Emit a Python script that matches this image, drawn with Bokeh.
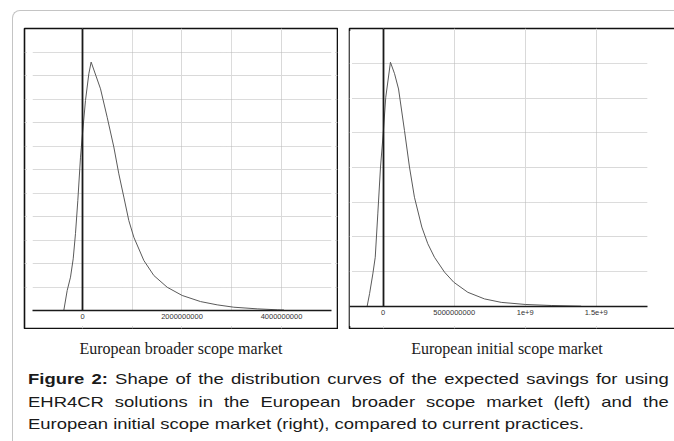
from bokeh.plotting import figure
from bokeh.models import LinearAxis, Grid, FixedTicker, Range1d, Div, Spacer, BoxAnnotation
from bokeh.layouts import row, column
from bokeh.embed import file_html
from bokeh.resources import INLINE

# ---------------- data ----------------
# Left: European broader scope market (expected savings, density shape)
broad_x = [-3.76e8, -3.08e8, -2.41e8, -1.87e8, -1.41e8, -0.94e8, -0.40e8, 0.0, 0.60e8,
           1.27e8, 1.74e8, 3.62e8, 4.96e8, 6.30e8, 7.30e8, 8.31e8, 9.31e8, 10.32e8,
           12.33e8, 14.34e8, 17.02e8, 20.03e8, 23.72e8, 27.07e8, 30.41e8, 35.11e8,
           39.13e8, 40.5e8]
broad_y = [0.0, 0.85, 1.42, 2.2, 3.27, 4.68, 6.53, 7.53, 8.94, 10.08, 10.58, 9.44, 8.23,
           6.96, 5.82, 4.83, 3.83, 3.12, 2.13, 1.49, 0.99, 0.64, 0.38, 0.24, 0.14, 0.07,
           0.03, 0.02]
broad_ticks = [0, 2000000000, 4000000000]
broad_tick_labels = ["0", "2000000000", "4000000000"]
broad_minor_x = [1000000000, 3000000000]
broad_major_y = [2, 4, 6, 8, 10]
broad_minor_y = [1, 3, 5, 7, 9, 11]
broad_axis_span = (-1.0e9, 5.0e9)

# Right: European initial scope market
init_x = [-1.13e8, -0.96e8, -0.73e8, -0.56e8, -0.38e8, -0.19e8, 0.0, 0.18e8, 0.51e8,
          0.80e8, 1.08e8, 1.50e8, 1.85e8, 2.20e8, 2.72e8, 3.14e8, 3.61e8, 4.32e8,
          4.97e8, 5.96e8, 7.13e8, 8.31e8, 10.0e8, 11.83e8, 13.94e8]
init_y = [0.0, 0.36, 0.93, 1.41, 2.66, 4.01, 4.97, 6.02, 7.03, 6.70, 6.26, 5.06, 4.01,
          3.14, 2.28, 1.80, 1.41, 0.98, 0.69, 0.40, 0.21, 0.11, 0.05, 0.02, 0.0]
init_ticks = [0, 500000000, 1000000000, 1500000000]
init_tick_labels = ["0", "5000000000", "1e+9", "1.5e+9"]
init_minor_x = []
init_major_y = [2, 4, 6]
init_minor_y = [1, 3, 5, 7]
init_axis_span = (-0.2373e9, 1.86e9)

subtitle_left = "European broader scope market"
subtitle_right = "European initial scope market"
caption_l1 = ["<b>Figure</b>", "<b>2:</b>"] + \
    "Shape of the distribution curves of the expected savings for using".split()
caption_l2 = "EHR4CR solutions in the European broader scope market (left) and the".split()
caption_l3 = "European initial scope market (right), compared to current practices."


def make_chart(xs, ys, xr, yr, ticks, labels, minor_x, major_y, minor_y, axis_span,
               width, height):
    p = figure(width=width, height=height, x_range=Range1d(*xr), y_range=Range1d(*yr),
               x_axis_type=None, y_axis_type=None, toolbar_location=None,
               output_backend="svg", min_border_left=1, min_border_right=1,
               min_border_top=1, min_border_bottom=1,
               outline_line_color="#111111", outline_line_width=1.6,
               background_fill_color="white", border_fill_color="white")
    gx = Grid(dimension=0, ticker=FixedTicker(ticks=ticks, minor_ticks=minor_x),
              grid_line_color="#d9d9d9", grid_line_width=1,
              minor_grid_line_color="#b8b8b8", minor_grid_line_dash="1 1")
    gy = Grid(dimension=1, ticker=FixedTicker(ticks=major_y, minor_ticks=minor_y),
              grid_line_color="#d9d9d9", grid_line_width=1.2,
              minor_grid_line_color="#b8b8b8", minor_grid_line_dash="1 1")
    p.add_layout(gx)
    p.add_layout(gy)
    # white masks (kept clear of the frame outline) so the grid only covers the
    # plotting area above the axis and between the axis ends
    ex = (xr[1] - xr[0]) / (width - 2) * 2.5
    ey = (yr[1] - yr[0]) / (height - 2) * 2.5
    x_in = (xr[0] + ex, xr[1] - ex)
    y_in = (yr[0] + ey, yr[1] - ey)
    masks = [dict(left=x_in[0], right=axis_span[0], bottom=y_in[0], top=y_in[1]),
             dict(left=axis_span[1], right=x_in[1], bottom=y_in[0], top=y_in[1]),
             dict(left=x_in[0], right=x_in[1], bottom=y_in[0], top=0)]
    for kw in masks:
        p.add_layout(BoxAnnotation(fill_color="white", fill_alpha=1.0, line_alpha=0,
                                   level="underlay", **kw))
    p.line(xs, ys, line_color="#5a5a5a", line_width=1)
    xa = LinearAxis(fixed_location=0, ticker=FixedTicker(ticks=ticks),
                    major_label_overrides={t: l for t, l in zip(ticks, labels)},
                    bounds=axis_span,
                    major_tick_in=0, major_tick_out=0, minor_tick_in=0, minor_tick_out=0,
                    axis_line_color="#1a1a1a", axis_line_width=1.6,
                    major_label_text_font="Liberation Sans",
                    major_label_text_font_size="7.5px",
                    major_label_text_color="#333333", major_label_standoff=4)
    p.add_layout(xa, "below")
    ya = LinearAxis(fixed_location=0, ticker=FixedTicker(ticks=[]), bounds=(0, yr[1]),
                    major_tick_in=0, major_tick_out=0, minor_tick_in=0, minor_tick_out=0,
                    axis_line_color="#1a1a1a", axis_line_width=1.8,
                    major_label_text_font_size="0px")
    p.add_layout(ya, "left")
    return p


p_left = make_chart(broad_x, broad_y, (-1.1658e9, 5.1256e9), (-0.767, 12.01),
                    broad_ticks, broad_tick_labels, broad_minor_x, broad_major_y,
                    broad_minor_y, broad_axis_span, 315, 302)
p_right = make_chart(init_x, init_y, (-0.2373e9, 2.164e9), (-0.643, 8.003),
                     init_ticks, init_tick_labels, init_minor_x, init_major_y,
                     init_minor_y, init_axis_span, 343, 302)


def spread(words):
    return "".join("<span>" + w + "</span>" for w in words)


caption_html = f"""
<div style="position:relative;width:661px;height:110px;color:#1a1a1a;">
  <div style="position:absolute;left:48px;top:11px;width:240px;text-align:center;
       font-family:'Liberation Serif';font-size:16px;line-height:18px;white-space:nowrap;">{subtitle_left}</div>
  <div style="position:absolute;left:374px;top:11px;width:240px;text-align:center;
       font-family:'Liberation Serif';font-size:16px;line-height:18px;white-space:nowrap;">{subtitle_right}</div>
  <div style="position:absolute;left:15px;top:39px;width:521px;transform:scaleX(1.23);
       transform-origin:0 0;font-family:'Liberation Sans';font-size:15px;line-height:22.5px;">
    <div style="display:flex;justify-content:space-between;white-space:nowrap;">{spread(caption_l1)}</div>
    <div style="display:flex;justify-content:space-between;white-space:nowrap;">{spread(caption_l2)}</div>
    <div style="white-space:nowrap;">{caption_l3}</div>
  </div>
</div>
"""
cap = Div(text=caption_html, width=661, height=110, margin=0)

charts = row(Spacer(width=10, height=302), p_left, Spacer(width=10, height=302), p_right)
page = column(Spacer(width=661, height=16), charts, cap, width=662, height=431,
              styles={"border-top": "1px solid #c4c4c4", "border-left": "1px solid #c4c4c4",
                      "border-top-left-radius": "8px", "margin-left": "12px",
                      "margin-top": "10px", "overflow": "hidden",
                      "width": "662px", "height": "431px"})

open("out.html", "w").write(file_html(page, INLINE))
